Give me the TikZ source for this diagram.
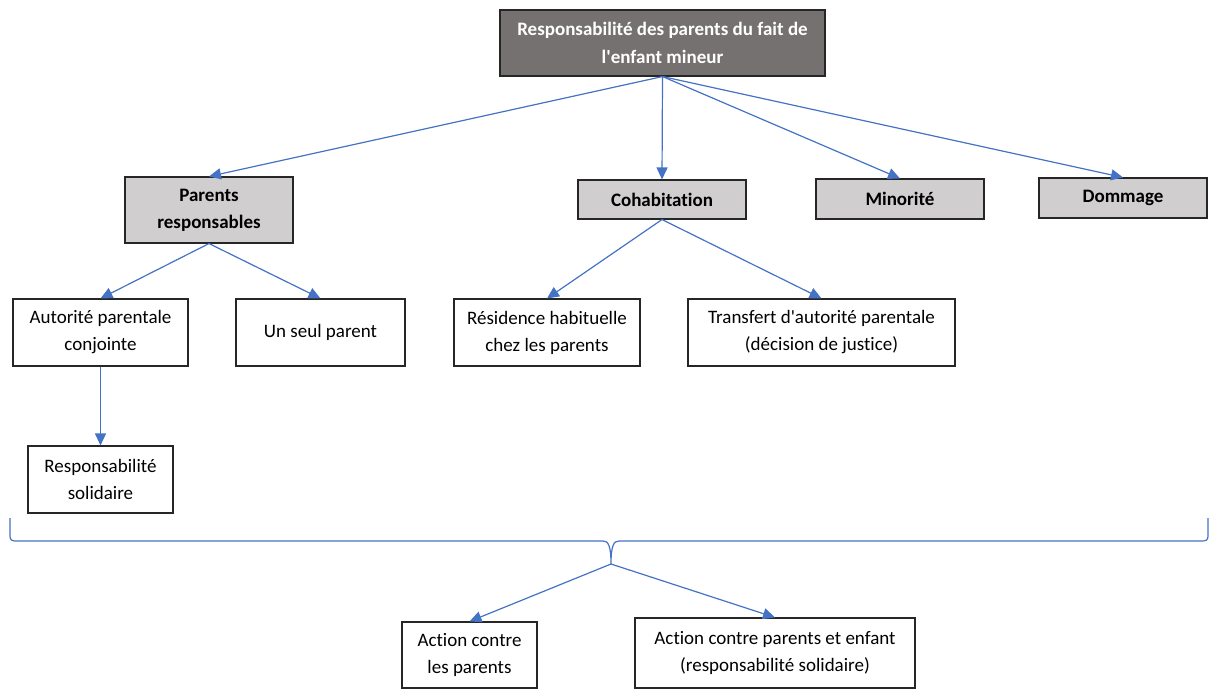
\documentclass[tikz,border=0pt]{standalone}
\usepackage{fontspec}
\newfontfamily\carlito{Carlito}[Ligatures=NoCommon]
\usepackage{tikz}
\usetikzlibrary{arrows.meta}
\definecolor{titregris}{HTML}{767171}
\definecolor{gris}{HTML}{D0CECE}
\definecolor{fleche}{HTML}{4472C4}

\begin{document}
\begin{tikzpicture}[x=1pt, y=-1pt, every node/.style={draw=black!85, line width=1.1pt, align=center, inner sep=0pt, font=\carlito\fontsize{19}{27}\selectfont}, tbox/.style={fill=titregris, text=white, font=\carlito\bfseries\fontsize{19}{28}\selectfont}, gbox/.style={fill=gris, font=\carlito\bfseries\fontsize{19}{27}\selectfont}, fl/.style={draw=fleche, line width=1.2pt, -{Triangle[length=12pt,width=11pt]}}]
			\useasboundingbox (0,0) rectangle (1212,689);
			\node[tbox, minimum width=325, minimum height=66] (titre) at (662.5,43){Responsabilité des parents du fait de\\l'enfant mineur};
			\node[gbox, minimum width=168, minimum height=66] (parents) at (209,210){Parents\\responsables};
			\node[gbox, minimum width=168, minimum height=39] (cohab) at (662,199.5){Cohabitation};
			\node[gbox, minimum width=168, minimum height=40] (minorite) at (900,199){Minorité};
			\node[gbox, minimum width=168, minimum height=40] (dommage) at (1123,198){Dommage};
			\node[minimum width=175, minimum height=67] (autorite) at (100.5,332.5){Autorité parentale\\conjointe};
			\node[minimum width=169, minimum height=67] (seul) at (320.5,332.5){Un seul parent};
			\node[minimum width=186, minimum height=67] (residence) at (547,332.5){Résidence habituelle\\chez les parents};
			\node[minimum width=267, minimum height=67] (transfert) at (821.5,332.5){Transfert d'autorité parentale\\(décision de justice)};
			\node[minimum width=145, minimum height=67] (solidaire) at (100.5,479.5){Responsabilité\\solidaire};
			\node[minimum width=135, minimum height=66] (actparents) at (469.5,655){Action contre\\les parents};
			\node[minimum width=280, minimum height=70] (actenfant) at (775,653){Action contre parents et enfant\\(responsabilité solidaire)};
			\coordinate (pointe) at (611,564);
			
			\draw[draw=fleche, line width=1.2pt] (10,518) -- (10,536) .. controls (10,540) and (12,541) .. (16,541) -- (603,541) .. controls (608,541) and (611,545) .. (611,564) .. controls (611,545) and (614,541) .. (619,541) -- (1202,541) .. controls (1206,541) and (1208,540) .. (1208,536) -- (1208,518);
			
			\path (titre.south) edge[fl] (parents.north);
			\path (titre.south) edge[fl] (cohab.north);
			\path (titre.south) edge[fl] (minorite.north);
			\path (titre.south) edge[fl] (dommage.north);
			\path (parents.south) edge[fl] (autorite.north);
			\path (parents.south) edge[fl] (seul.north);
			\path (cohab.south) edge[fl] (residence.north);
			\path (cohab.south) edge[fl] (transfert.north);
			\path (autorite.south) edge[fl] (solidaire.north);
			\path (pointe) edge[fl] (actparents.north);
			\path (pointe) edge[fl] (actenfant.north);
			\end{tikzpicture}
\end{document}
